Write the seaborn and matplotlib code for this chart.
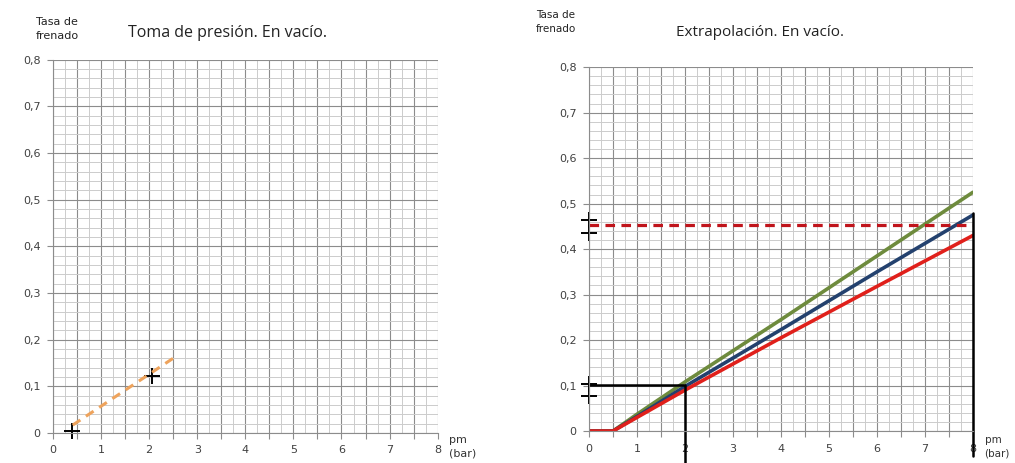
# Toma de presión / Extrapolación en vacío

import matplotlib
matplotlib.use("Agg")
import matplotlib.pyplot as plt
import seaborn as sns
import pandas as pd
from matplotlib.ticker import MultipleLocator, FuncFormatter

# ---- datos ----
# izquierda: toma de presion
toma_pm = [0.4, 2.05]
toma_tasa = [0.005, 0.122]
recta_pm = [0.41, 2.54]
recta_tasa = [0.017, 0.163]

# derecha: extrapolacion
pm = [0, 0.5, 1, 2, 4, 6, 8]
tasa_verde = [0, 0, 0.037, 0.108, 0.245, 0.385, 0.525]
tasa_azul = [0, 0, 0.032, 0.098, 0.223, 0.350, 0.475]
tasa_roja = [0, 0, 0.030, 0.090, 0.205, 0.318, 0.430]

limite_tasa = 0.452  # discontinua horizontal
ref_pm_bajo = [0, 2, 2]
ref_tasa_bajo = [0.102, 0.102, -0.07]
ref_pm_alto = [8, 8]
ref_tasa_alto = [0.48, -0.055]
cruces_tasa = [0.104, 0.077, 0.464, 0.436]

sns.set_style("white")
plt.rcParams["font.family"] = ["DejaVu Sans"]

fig = plt.figure(figsize=(10.15, 4.63), dpi=100)
ax1 = fig.add_axes([0.0522, 0.0648, 0.379, 0.806])
ax2 = fig.add_axes([0.5803, 0.069, 0.3783, 0.786])


def fmt_y(v, pos):
    if abs(v) < 1e-9:
        return "0"
    return f"{v:.1f}".replace(".", ",")


def fmt_x(v, pos):
    if abs(v - round(v)) < 1e-9:
        return str(int(round(v)))
    return ""


def papel(ax):
    ax.set_xlim(0, 8)
    ax.set_ylim(0, 0.8)
    ax.xaxis.set_major_locator(MultipleLocator(0.5))
    ax.xaxis.set_minor_locator(MultipleLocator(0.25))
    ax.yaxis.set_major_locator(MultipleLocator(0.1))
    ax.yaxis.set_minor_locator(MultipleLocator(0.02))
    ax.xaxis.set_major_formatter(FuncFormatter(fmt_x))
    ax.yaxis.set_major_formatter(FuncFormatter(fmt_y))
    ax.grid(which="major", color="#8c8c8c", linewidth=0.8)
    ax.grid(which="minor", color="#cccccc", linewidth=0.7)
    ax.set_axisbelow(True)
    ax.tick_params(which="major", direction="out", length=4, width=0.8,
                   color="#8c8c8c", labelsize=8, labelcolor="#404040",
                   bottom=True, left=True, pad=5)
    ax.tick_params(which="minor", length=0)
    for s in ax.spines.values():
        s.set_visible(False)
    ax.spines["left"].set_visible(True)
    ax.spines["bottom"].set_visible(True)
    ax.spines["left"].set_color("#8c8c8c")
    ax.spines["bottom"].set_color("#8c8c8c")
    ax.set_xlabel("")
    ax.set_ylabel("")


# ---- izquierda ----
sns.lineplot(x=recta_pm, y=recta_tasa, ax=ax1, color="#eea35c",
             linewidth=2.2, linestyle=(0, (3, 2.2)))
sns.scatterplot(x=toma_pm, y=toma_tasa, ax=ax1, marker="+", s=130,
                color="black", linewidth=1.4, clip_on=False)
papel(ax1)
fig.text(0.224, 0.929, "Toma de presión. En vacío.", fontsize=11.5,
         family="Open Sans", color="#222222", ha="center", va="center")
fig.text(0.035, 0.937, "Tasa de\nfrenado", fontsize=8, color="#222222",
         va="center", ha="left", linespacing=1.5)
fig.text(0.442, 0.035, "pm\n(bar)", fontsize=8, color="#333333",
         va="center", ha="left", linespacing=1.4)

# ---- derecha ----
df = pd.DataFrame({"pm": pm * 3,
                   "tasa": tasa_verde + tasa_azul + tasa_roja,
                   "serie": ["verde"] * len(pm) + ["azul"] * len(pm) + ["roja"] * len(pm)})
sns.lineplot(data=df, x="pm", y="tasa", hue="serie", ax=ax2, linewidth=2.6,
             palette={"verde": "#6e8b3d", "azul": "#23416e", "roja": "#e0201b"},
             legend=False)
ax2.axhline(limite_tasa, xmin=0, xmax=1, color="#c0141b", linewidth=2.3,
            linestyle=(0, (3, 2)))
sns.lineplot(x=ref_pm_bajo, y=ref_tasa_bajo, ax=ax2, color="black",
             linewidth=1.8, sort=False, estimator=None, clip_on=False)
sns.lineplot(x=ref_pm_alto, y=ref_tasa_alto, ax=ax2, color="black",
             linewidth=1.8, sort=False, estimator=None, clip_on=False)
sns.scatterplot(x=[0] * len(cruces_tasa), y=cruces_tasa, ax=ax2, marker="+",
                s=130, color="black", linewidth=1.4, clip_on=False)
papel(ax2)
fig.text(0.749, 0.929, "Extrapolación. En vacío.", fontsize=11,
         family="Open Sans", color="#222222", ha="center", va="center")
fig.text(0.528, 0.952, "Tasa de\nfrenado", fontsize=7.5, color="#222222",
         va="center", ha="left", linespacing=1.5)
fig.text(0.970, 0.035, "pm\n(bar)", fontsize=7.5, color="#333333",
         va="center", ha="left", linespacing=1.4)

fig.savefig("out.png", dpi=100)
